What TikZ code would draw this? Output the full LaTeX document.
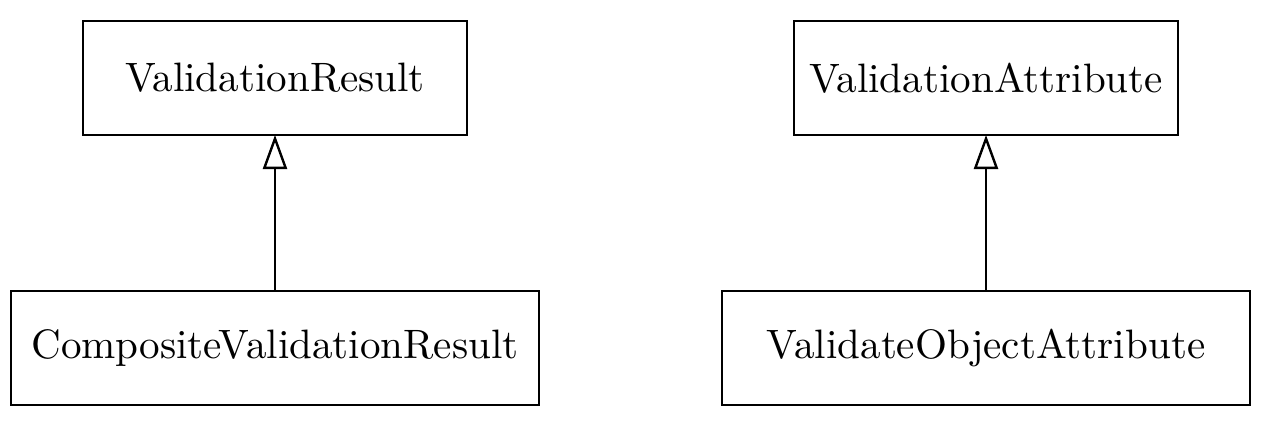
\documentclass[tikz,border=0pt]{standalone}
\usetikzlibrary{arrows.meta}
\begin{document}
\begin{tikzpicture}[x=1pt,y=1pt,
  classbox/.style={draw,line width=0.6pt,minimum height=28.5pt,inner sep=0pt,outer sep=0pt,font=\fontsize{10.27}{12}\selectfont},
  inherit/.style={line width=0.6pt,-{Triangle[open,width=6pt,length=8.5pt]}}]
\useasboundingbox (0,0) rectangle (318.25,107.5);
\node[classbox,minimum width=96pt] (vr) at (68.75,88) {ValidationResult};
\node[classbox,minimum width=132pt] (cvr) at (68.75,20.5) {CompositeValidationResult};
\node[classbox,minimum width=96pt] (va) at (246.5,88) {ValidationAttribute};
\node[classbox,minimum width=132pt] (voa) at (246.5,20.5) {ValidateObjectAttribute};
\draw[inherit] (cvr) -- (vr);
\draw[inherit] (voa) -- (va);
\end{tikzpicture}
\end{document}
